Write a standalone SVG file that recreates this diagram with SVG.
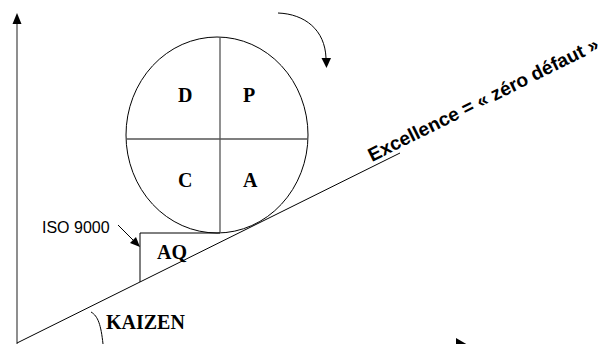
<svg xmlns="http://www.w3.org/2000/svg" width="612" height="344" viewBox="0 0 612 344">
<style>
.ln{fill:none;stroke:#000;stroke-width:1}
.gr{fill:none;stroke:#555;stroke-width:1.3}
.ax{fill:none;stroke:#444;stroke-width:1.2}
.lt{font-family:"Liberation Serif","Times New Roman",serif;font-weight:bold;font-size:20px;fill:#000}
.iso{font-family:"Liberation Sans",Arial,sans-serif;font-size:16px;fill:#000}
.ex{font-family:"Liberation Sans",Arial,sans-serif;font-weight:bold;font-size:19px;fill:#000}
</style>
<rect width="612" height="344" fill="#fff"/>
<g id="connectors">
  <line class="ax" x1="17" y1="24" x2="17" y2="344"/>
  <polygon points="17,13 12.5,24 21.5,24" fill="#000"/>
  <line class="ln" x1="17" y1="343" x2="400" y2="153"/>
  <path class="ln" d="M278,13 C305,14 325,30 326,58"/>
  <polygon points="321.5,58 331,58 326.5,68" fill="#000"/>
  <line class="ln" x1="118" y1="225" x2="134" y2="241"/>
  <polygon points="140,247 130,243 136,237" fill="#000"/>
  <path class="ln" d="M91,312 C98,316 101,325 103,344"/>
  <polygon points="456,338 468,345 456,352" fill="#000"/>
</g>
<g id="pdca">
  <ellipse class="ln" cx="217" cy="135" rx="91" ry="98"/>
  <line class="gr" x1="220" y1="37" x2="220" y2="233"/>
  <line class="gr" x1="126" y1="139" x2="308" y2="139"/>
  <text class="lt" x="178" y="102">D</text>
  <text class="lt" x="243" y="102">P</text>
  <text class="lt" x="178" y="187">C</text>
  <text class="lt" x="243" y="187">A</text>
</g>
<g id="aq">
  <polyline class="ln" points="140,282 140,233 220,233"/>
  <text class="lt" x="157" y="259">AQ</text>
</g>
<g id="iso">
  <text class="iso" x="42" y="233">ISO 9000</text>
</g>
<g id="kaizen">
  <text class="lt" x="106" y="329">KAIZEN</text>
</g>
<g id="excellence">
  <text class="ex" transform="translate(372,162) rotate(-26.4)" textLength="255" lengthAdjust="spacingAndGlyphs">Excellence = « zéro défaut »</text>
</g>
</svg>
